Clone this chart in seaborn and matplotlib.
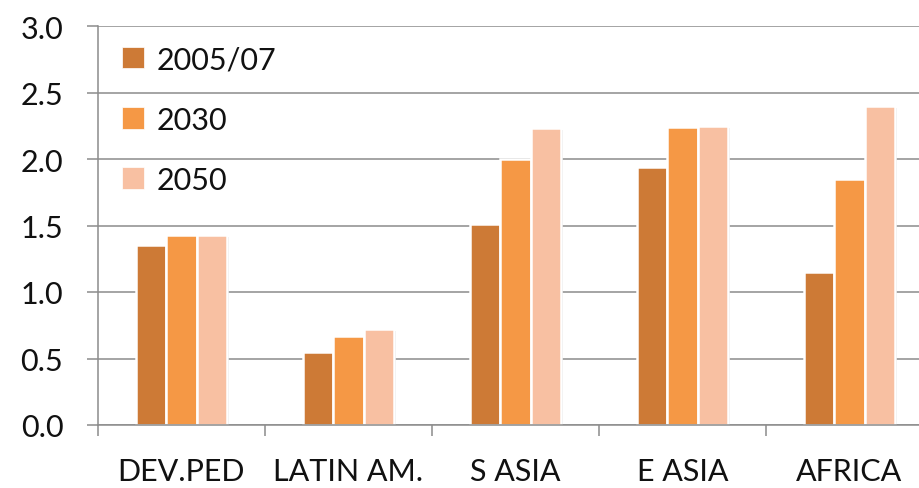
import matplotlib
matplotlib.use("Agg")
import matplotlib.pyplot as plt
import matplotlib.patheffects as pe
from matplotlib.patches import Patch
import numpy as np
import pandas as pd
import seaborn as sns

# Regions and series values
regions = ["DEV.PED", "LATIN AM.", "S ASIA", "E ASIA", "AFRICA"]
periods = ["2005/07", "2030", "2050"]
vals_2005_07 = [1.35, 0.55, 1.51, 1.94, 1.15]
vals_2030 = [1.43, 0.67, 2.00, 2.24, 1.85]
vals_2050 = [1.43, 0.72, 2.23, 2.25, 2.40]
colors = ["#CD7A36", "#F59845", "#F8C0A2"]
yticks = [0.0, 0.5, 1.0, 1.5, 2.0, 2.5, 3.0]

df = pd.DataFrame({
    "region": regions * 3,
    "period": [p for p in periods for _ in regions],
    "value": vals_2005_07 + vals_2030 + vals_2050,
})

sns.set_theme(style="white")
plt.rcParams["font.family"] = ["Lato", "DejaVu Sans"]

fig = plt.figure(figsize=(9.19, 4.89), dpi=100)
ax = fig.add_axes([98 / 919, 63 / 489, 835 / 919, 399 / 489])

sns.barplot(data=df, x="region", y="value", hue="period", palette=colors,
            saturation=1, width=0.54, edgecolor="white", linewidth=1.8,
            ax=ax, legend=False)

shadow = [pe.SimplePatchShadow(offset=(1.5, -1.5), shadow_rgbFace="#7a7a7a", alpha=0.35),
          pe.Normal()]
for p in ax.patches:
    p.set_path_effects(shadow)

ax.set_ylim(0, 3.0)
ax.set_xlim(-0.5, len(regions) - 0.5)
ax.set_yticks(yticks)
ax.set_yticklabels([f"{v:.1f}" for v in yticks])
ax.yaxis.grid(True, color="#8c8c8c", linewidth=1.1)
ax.set_axisbelow(True)
ax.set_xlabel("")
ax.set_ylabel("")

for s in ["top", "right"]:
    ax.spines[s].set_visible(False)
for s in ["left", "bottom"]:
    ax.spines[s].set_color("#8c8c8c")
    ax.spines[s].set_linewidth(1.1)

# category boundary ticks below the baseline
ax.set_xticks(np.arange(-0.5, len(regions), 1.0), minor=True)
ax.tick_params(axis="x", which="minor", bottom=True, length=8, width=1.1,
               color="#8c8c8c")
ax.tick_params(axis="x", which="major", bottom=False, length=0, pad=23,
               labelsize=22, labelcolor="#111111")
ax.tick_params(axis="y", which="major", left=True, length=8, width=1.1,
               color="#8c8c8c", pad=17, labelsize=22, labelcolor="#111111")

handles = [Patch(facecolor=c, edgecolor="white", linewidth=0.5) for c in colors]
ax.legend(handles, periods, loc="upper left", bbox_to_anchor=(0.029, 0.952),
          frameon=False, fontsize=22, handlelength=0.72, handleheight=0.72,
          handletextpad=0.4, labelspacing=1.06, borderpad=0, borderaxespad=0,
          labelcolor="#111111")

fig.savefig("out.png", dpi=100)
